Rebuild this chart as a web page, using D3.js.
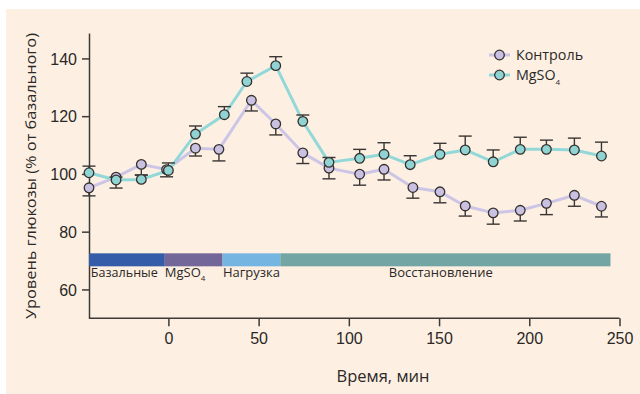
<!DOCTYPE html>
<meta charset="utf-8">
<style>
    body { margin: 0; background: #fff; }
    svg { display: block; font-family: "Open Sans", "Noto Sans", sans-serif; }
    .axis path, .axis line { stroke: #3d3a38; stroke-width: 1.5; }
    .axis text { fill: #2b2826; }
</style>
<svg width="640" height="394"></svg>
<script src="https://d3js.org/d3.v7.min.js"></script>
<script>
    // time points (min) and glucose level (% of basal)
    var timeCtrl = [-44, -29, -15, -1, 15, 28, 46, 59.5, 74.5, 89, 106, 119.5, 135.5, 150.5, 164.5, 180, 195, 209.5, 225, 240];
    var ctrl     = [95.2, 98.9, 103.3, 101.5, 108.9, 108.5, 125.5, 117.3, 107.3, 102.0, 99.9, 101.6, 95.3, 93.8, 88.9, 86.5, 87.4, 89.8, 92.6, 88.8];
    var ctrlErr  = [2.8, 3.8, 3.7, 2.5, 2.7, 4.0, 3.7, 3.8, 3.7, 3.7, 3.8, 3.7, 3.7, 3.8, 3.5, 3.9, 3.7, 3.9, 3.8, 3.7];

    var timeMg = [-44, -29, -15, 0, 15, 31, 43.5, 59.5, 74.5, 89, 106, 119.5, 134, 150.5, 164.5, 180, 195, 209.5, 225, 240];
    var mg     = [100.4, 97.9, 98.1, 101.2, 113.8, 120.5, 132.0, 137.5, 118.2, 104.0, 105.4, 106.8, 103.2, 106.8, 108.3, 104.2, 108.5, 108.5, 108.3, 106.2];
    var mgErr  = [2.3, 1.0, 1.5, 2.6, 2.8, 2.8, 2.9, 3.1, 2.2, 1.7, 3.1, 4.0, 3.1, 3.8, 4.8, 4.1, 4.2, 3.2, 4.1, 4.8];

    var phases     = ["Базальные", "MgSO", "Нагрузка", "Восстановление"];
    var phaseStart = [-44, -2, 30, 62];
    var phaseEnd   = [-2, 30, 62, 245];
    var phaseColor = ["#345ca8", "#73679a", "#74b5e2", "#72a5a3"];

    var xTicks = [0, 50, 100, 150, 200, 250];
    var yTicks = [60, 80, 100, 120, 140];

    var svg = d3.select("svg");

    svg.append("rect")
        .attr("x", 6).attr("y", 9)
        .attr("width", 634).attr("height", 385)
        .attr("fill", "#fdf0e3");

    var x = d3.scaleLinear().domain([-44, 250]).range([89, 619.5]);
    var y = d3.scaleLinear().domain([50, 148.8]).range([318.3, 33]);

    // axes
    svg.append("g")
        .attr("class", "axis")
        .attr("transform", "translate(0," + y(50) + ")")
        .call(d3.axisBottom(x).tickValues(xTicks).tickSize(8).tickSizeOuter(0).tickPadding(6))
        .call(function (g) { g.select(".domain").attr("d", "M" + x(-44) + ",0H" + x(250)); });

    svg.append("g")
        .attr("class", "axis")
        .attr("transform", "translate(" + x(-44) + ",0)")
        .call(d3.axisLeft(y).tickValues(yTicks).tickSize(7).tickSizeOuter(0).tickPadding(5))
        .call(function (g) { g.selectAll("text").attr("dy", "0.36em"); });

    svg.selectAll(".axis .tick text").attr("font-size", 16);

    // phase band
    svg.selectAll(".phase")
        .data(phases)
        .enter().append("rect")
        .attr("class", "phase")
        .attr("x", function (d, i) { return x(phaseStart[i]); })
        .attr("width", function (d, i) { return x(phaseEnd[i]) - x(phaseStart[i]); })
        .attr("y", y(72.5))
        .attr("height", y(68) - y(72.5))
        .attr("fill", function (d, i) { return phaseColor[i]; });

    var labelX = [phaseStart[0] + 1, phaseStart[1] + 0, phaseStart[2] + 0.2, 151];
    var pl = svg.selectAll(".plabel")
        .data(phases)
        .enter().append("text")
        .attr("class", "plabel")
        .attr("x", function (d, i) { return x(labelX[i]); })
        .attr("y", y(64.3))
        .attr("font-size", 13)
        .attr("fill", "#2b2826")
        .attr("text-anchor", function (d, i) { return i == 3 ? "middle" : "start"; })
        .text(function (d) { return d; });
    pl.filter(function (d) { return d == "Базальные"; })
        .attr("textLength", 67).attr("lengthAdjust", "spacingAndGlyphs");
    pl.filter(function (d) { return d == "MgSO"; })
        .append("tspan").attr("dy", 4).attr("font-size", 8).text("4");

    // lines
    function series(times, vals, errs, lineColor, fillColor, up) {
        var pts = vals.map(function (v, i) { return { t: times[i], v: v, e: errs[i] }; });
        var line = d3.line().x(function (d) { return x(d.t); }).y(function (d) { return y(d.v); });
        svg.append("path")
            .datum(pts)
            .attr("d", line)
            .attr("fill", "none")
            .attr("stroke", lineColor)
            .attr("stroke-width", 3)
            .attr("stroke-linejoin", "round");
        return { pts: pts, fill: fillColor, up: up };
    }

    function bars(s) {
        var g = svg.append("g").attr("stroke", "#3a3634").attr("stroke-width", 1.4);
        s.pts.forEach(function (d) {
            var end = s.up ? d.v + d.e : d.v - d.e;
            g.append("line").attr("x1", x(d.t)).attr("x2", x(d.t)).attr("y1", y(d.v)).attr("y2", y(end));
            g.append("line").attr("x1", x(d.t) - 6.5).attr("x2", x(d.t) + 6.5).attr("y1", y(end)).attr("y2", y(end));
        });
    }

    function dots(s) {
        svg.append("g").selectAll("circle")
            .data(s.pts)
            .enter().append("circle")
            .attr("cx", function (d) { return x(d.t); })
            .attr("cy", function (d) { return y(d.v); })
            .attr("r", 4.8)
            .attr("fill", s.fill)
            .attr("stroke", "#35312f")
            .attr("stroke-width", 1.3);
    }

    var sCtrl = series(timeCtrl, ctrl, ctrlErr, "#cdc5e6", "#c9c0e2", false);
    var sMg = series(timeMg, mg, mgErr, "#93d8d8", "#8fd3d3", true);
    bars(sCtrl); bars(sMg);
    dots(sCtrl); dots(sMg);

    // legend
    var legend = [["Контроль", "#cdc5e6", "#c9c0e2"], ["MgSO", "#93d8d8", "#8fd3d3"]];
    legend.forEach(function (l, i) {
        var ly = 55 + i * 20;
        svg.append("line").attr("x1", 489).attr("x2", 510).attr("y1", ly).attr("y2", ly)
            .attr("stroke", l[1]).attr("stroke-width", 3);
        svg.append("circle").attr("cx", 499.5).attr("cy", ly).attr("r", 4.8)
            .attr("fill", l[2]).attr("stroke", "#35312f").attr("stroke-width", 1.3);
        var t = svg.append("text").attr("x", 516).attr("y", ly + 5)
            .attr("font-size", 14.3).attr("fill", "#2b2826").text(l[0]);
        if (i == 1) t.append("tspan").attr("dy", 5).attr("font-size", 8).text("4");
    });

    // axis titles
    svg.append("text")
        .attr("x", 383).attr("y", 382)
        .attr("text-anchor", "middle")
        .attr("font-size", 16.5).attr("fill", "#2b2826")
        .text("Время, мин");

    svg.append("text")
        .attr("transform", "translate(36,176) rotate(-90)")
        .attr("text-anchor", "middle")
        .attr("font-size", 15).attr("fill", "#2b2826")
        .attr("textLength", 286).attr("lengthAdjust", "spacingAndGlyphs")
        .text("Уровень глюкозы (% от базального)");
</script>
